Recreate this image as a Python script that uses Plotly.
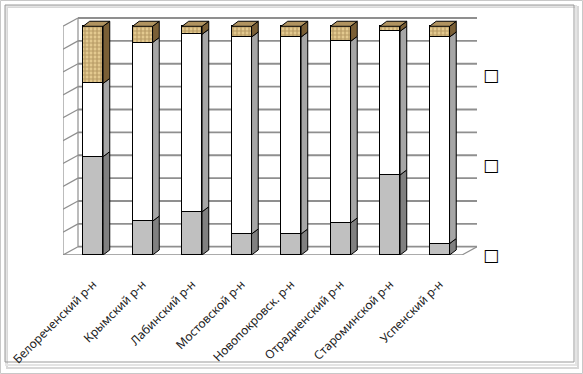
import plotly.graph_objects as go

categories = ["Белореченский р-н", "Крымский р-н", "Лабинский р-н", "Мостовской р-н",
              "Новопокровск. р-н", "Отрадненский р-н", "Староминской р-н", "Успенский р-н"]
series_gray = [43, 14.8, 18.9, 9.2, 9.2, 14, 35, 5]
series_white = [32, 78.1, 77.6, 86.1, 86.1, 79.4, 62.8, 90.3]
series_tan = [25, 7.1, 3.5, 4.7, 4.7, 6.6, 2.2, 4.7]
legend_labels = ["□", "□", "□"]

W, H = 583, 374
L, R, T, B = 63, 477, 17, 255  # plot area in pixels
XR = [-0.607, 7.757]
YR = [0, 104.06]
x_idx = list(range(len(categories)))

BW = 0.405          # bar width (category units)
DXB, DYB = 0.135, 2.2   # bar depth offset
DXW, DYW = 0.303, 3.62  # wall depth offset
GRID = "#8f8f8f"

fig = go.Figure()
fig.add_trace(go.Bar(x=x_idx, y=series_gray, width=BW, marker=dict(color="#c0c0c0", line=dict(color="#000", width=1)), showlegend=False))
fig.add_trace(go.Bar(x=x_idx, y=series_white, width=BW, marker=dict(color="#ffffff", line=dict(color="#000", width=1)), showlegend=False))
fig.add_trace(go.Bar(x=x_idx, y=series_tan, width=BW,
                     marker=dict(color="#dcc08a", line=dict(color="#000", width=1),
                                 pattern=dict(shape="+", fgcolor="#8a6a3a", bgcolor="#e3c98f", size=4, solidity=0.5)),
                     showlegend=False))

shapes = []
def px2p(px, py):
    return (px - L) / (R - L), (B - py) / (B - T)

# walls and gridlines
xl_front, xl_back = XR[0], XR[0] + DXW
for k in range(11):
    v = 10 * k
    shapes.append(dict(type="line", xref="x", yref="y", x0=xl_back, x1=XR[1], y0=v + DYW, y1=v + DYW,
                       line=dict(color=GRID, width=1.8), layer="below"))
    shapes.append(dict(type="line", xref="x", yref="y", x0=xl_front, x1=xl_back, y0=v, y1=v + DYW,
                       line=dict(color=GRID, width=1.2), layer="below"))
shapes.append(dict(type="line", xref="x", yref="y", x0=xl_front, x1=xl_front, y0=0, y1=100, line=dict(color=GRID, width=1.2), layer="below"))
shapes.append(dict(type="line", xref="x", yref="y", x0=xl_back, x1=xl_back, y0=DYW, y1=100 + DYW, line=dict(color=GRID, width=1.2), layer="below"))
# floor front edge
xr_front = XR[1] - DXW
shapes.append(dict(type="line", xref="x", yref="y", x0=xl_front, x1=xr_front, y0=0, y1=0, line=dict(color=GRID, width=1.5), layer="below"))
shapes.append(dict(type="line", xref="x", yref="y", x0=xr_front, x1=XR[1], y0=0, y1=DYW, line=dict(color=GRID, width=1.2), layer="below"))

# 3D side and top faces
seg_cols = [("#808080", "#808080"), ("#a6a6a6", "#ffffff"), ("#7a5f36", "#b09360")]
for i in x_idx:
    base = 0
    for s, vals in enumerate([series_gray, series_white, series_tan]):
        y0, y1 = base, base + vals[i]
        xr = i + BW / 2
        shapes.append(dict(type="path", xref="x", yref="y",
                           path=f"M {xr},{y0} L {xr+DXB},{y0+DYB} L {xr+DXB},{y1+DYB} L {xr},{y1} Z",
                           fillcolor=seg_cols[s][0], line=dict(color="#000", width=1), layer="above"))
        base = y1
    xl = i - BW / 2
    xr = i + BW / 2
    shapes.append(dict(type="path", xref="x", yref="y",
                       path=f"M {xl},{base} L {xr},{base} L {xr+DXB},{base+DYB} L {xl+DXB},{base+DYB} Z",
                       fillcolor=seg_cols[2][1], line=dict(color="#000", width=1), layer="above"))

# frame
def rect_px(x0, y0, x1, y1, color, width):
    return dict(type="rect", xref="paper", yref="paper",
                x0=(x0 - L) / (R - L), x1=(x1 - L) / (R - L),
                y0=(B - y1) / (B - T), y1=(B - y0) / (B - T),
                line=dict(color=color, width=width), layer="below")
shapes.append(rect_px(0.5, 0.5, 582.5, 373.5, "#c8c8c8", 1))
shapes.append(rect_px(7, 7, 578, 368, "#d8d8d8", 2))
shapes.append(rect_px(6, 6, 576, 365, "#e4e4e4", 2))
shapes.append(rect_px(5, 5, 574, 362, "#9a9a9a", 1))

annotations = []
for lab, py in zip(legend_labels, [75, 165, 255]):
    xp, yp = px2p(491, py)
    annotations.append(dict(text=lab, x=xp, y=yp, xref="paper", yref="paper", showarrow=False,
                            xanchor="center", yanchor="middle",
                            font=dict(size=17, color="#000", family="DejaVu Sans")))

fig.update_layout(
    barmode="stack", width=W, height=H, autosize=False,
    margin=dict(l=L, r=W - R, t=T, b=H - B, pad=0, autoexpand=False),
    paper_bgcolor="white", plot_bgcolor="white",
    xaxis=dict(range=XR, tickvals=x_idx, ticktext=categories, tickangle=-45, showgrid=False, zeroline=False,
               showline=False, ticks="", automargin=False, ticklabelstandoff=19, ticklabelshift=0,
               tickfont=dict(family="Noto Sans", size=12, color="#222")),
    yaxis=dict(range=YR, showgrid=False, zeroline=False, showticklabels=False, showline=False, automargin=False),
    shapes=shapes, annotations=annotations, bargap=0,
)
fig.write_html("out.html", config={"displayModeBar": False},
               post_script="document.body.style.margin='0px';document.body.style.overflow='hidden';")
